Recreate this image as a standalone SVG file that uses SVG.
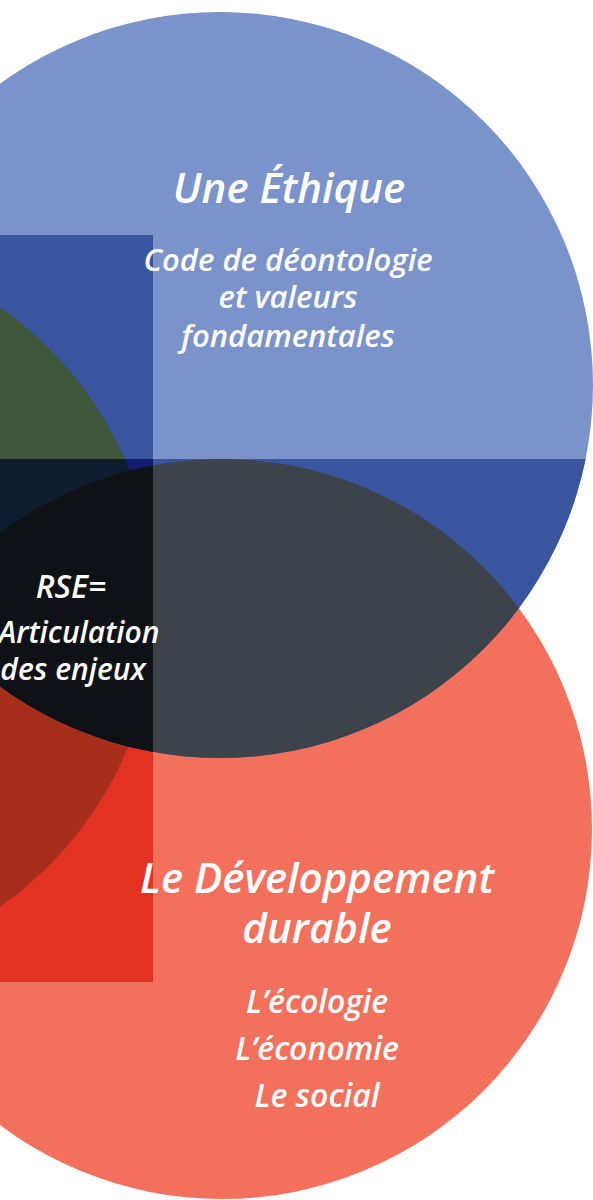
<svg xmlns="http://www.w3.org/2000/svg" width="593" height="1200" viewBox="0 0 593 1200">
<style>
.t{font-family:"Open Sans","Noto Sans","DejaVu Sans",sans-serif;font-style:italic;font-weight:600;fill:#FFFFFF;text-anchor:middle}
.h1{font-size:42px}
.h2{font-size:31px}
.h3{font-size:30px}
.h4{font-size:42px}
.h5{font-size:32px}
</style>
<defs>
<clipPath id="cBlue"><circle cx="220" cy="385" r="373"/></clipPath>
<clipPath id="cRed"><circle cx="222" cy="829" r="370"/></clipPath>
<clipPath id="cRect"><rect x="-10" y="235" width="163" height="747"/></clipPath>
<clipPath id="cLow"><rect x="-10" y="459" width="620" height="760"/></clipPath>
<clipPath id="cUp"><rect x="-10" y="-10" width="620" height="469"/></clipPath>
</defs>
<g id="circle-ethique">
<circle cx="220" cy="385" r="373" fill="#7B93CB"/>
</g>
<g id="circle-dd">
<circle cx="222" cy="829" r="370" fill="#F2705C"/>
</g>
<g id="band" clip-path="url(#cLow)">
<circle cx="220" cy="385" r="373" fill="#3A55A0"/>
</g>
<g id="lens" clip-path="url(#cBlue)">
<circle cx="222" cy="829" r="370" fill="#3D434A"/>
</g>
<g id="overlay" clip-path="url(#cRect)">
<rect x="-10" y="235" width="163" height="747" fill="#E33222"/>
<circle cx="-210" cy="607" r="366" fill="#A82E1C"/>
<g clip-path="url(#cBlue)">
<rect x="-10" y="0" width="200" height="800" fill="#111C6C"/>
<circle cx="-210" cy="607" r="366" fill="#0F1C2E"/>
</g>
<g clip-path="url(#cUp)">
<rect x="-10" y="235" width="163" height="224" fill="#3A55A0"/>
<circle cx="-210" cy="607" r="366" fill="#3E573B"/>
</g>
<g clip-path="url(#cBlue)">
<circle cx="222" cy="829" r="370" fill="#0E1115"/>
</g>
</g>
<g id="text-ethique">
<text class="t h1" x="289" y="203">Une Éthique</text>
<text class="t h2" x="288" y="271">Code de déontologie</text>
<text class="t h2" x="288" y="308">et valeurs</text>
<text class="t h2" x="288" y="347">fondamentales</text>
</g>
<g id="text-rse">
<text class="t h5" x="71" y="598">RSE=</text>
<text class="t h3" x="79" y="643">Articulation</text>
<text class="t h3" x="73" y="680">des enjeux</text>
</g>
<g id="text-dd">
<text class="t h4" x="317" y="893">Le Développement</text>
<text class="t h4" x="317" y="943">durable</text>
<text class="t h5" x="317" y="1013">L’écologie</text>
<text class="t h5" x="317" y="1060">L’économie</text>
<text class="t h5" x="317" y="1107">Le social</text>
</g>
</svg>
